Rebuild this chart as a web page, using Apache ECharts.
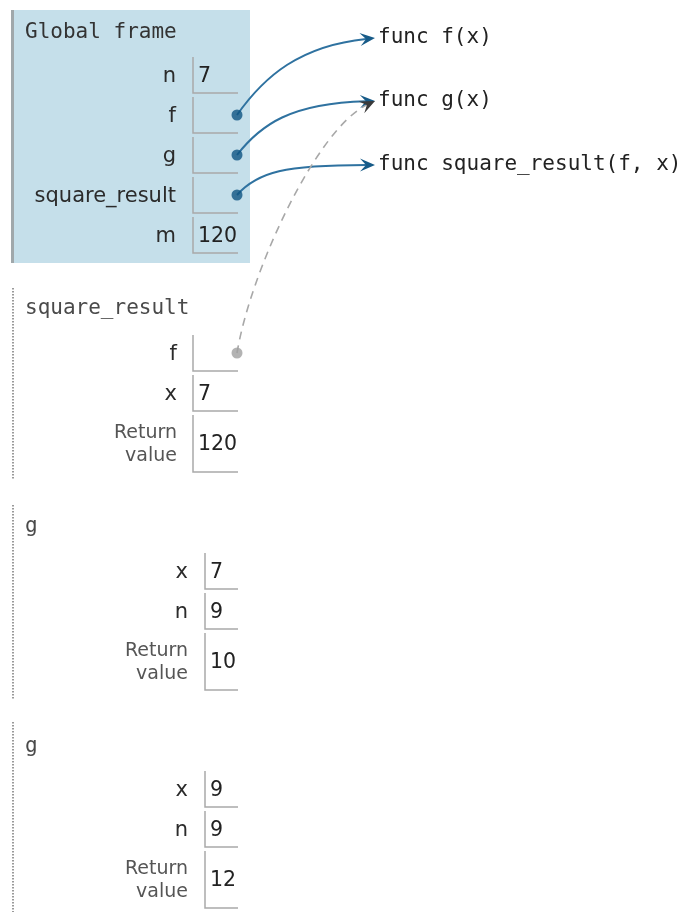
<!DOCTYPE html>
<html><head><meta charset="utf-8">
<script src="https://cdn.jsdelivr.net/npm/echarts@6/dist/echarts.min.js"></script>
<style>html,body{margin:0;padding:0;background:#fff}#c{width:683px;height:912px}</style>
</head><body><div id="c"></div>
<script>
// ---------------- data ----------------
const globalTitle = 'Global frame';
const globalNames = ['n', 'f', 'g', 'square_result', 'm'];
const globalValues = ['7', null, null, null, '120'];
const globalPointers = [null, 0, 1, 2, null];           // index into funcObjects
const funcObjects = ['func f(x)', 'func g(x)', 'func square_result(f, x)'];
const frameTitles = ['square_result', 'g', 'g'];
const frameNames = [['f', 'x', 'Return value'], ['x', 'n', 'Return value'], ['x', 'n', 'Return value']];
const frameValues = [[null, '7', '120'], ['7', '9', '10'], ['9', '9', '12']];
const framePointers = [[1, null, null], [null, null, null], [null, null, null]];

// ---------------- layout / style (pixel space of the 683x912 canvas) ----------------
const L = {
  global: {x0: 12, x1: 250, y0: 10, y1: 263, titleY: 33, rowTop: 57, labelRight: 176, boxLeft: 193},
  boxRight: 238, rowH: 36, retH: 57, gap: 4, borderX: 13, textDy: 1.5,
  frames: [
    {y0: 288, y1: 480, titleY: 309, rowTop: 335, labelRight: 177, boxLeft: 193},
    {y0: 505, y1: 700, titleY: 527, rowTop: 553, labelRight: 188, boxLeft: 205},
    {y0: 722, y1: 912, titleY: 747, rowTop: 771, labelRight: 188, boxLeft: 205}
  ],
  objX: 378, objY: [38, 101, 165], tipX: 375, dotX: 237,
  curves: [[0.2, 0.51, 0.46, 0.9], [0.17, 0.56, 0.39, 0.96], [0.15, 0.77, 0.35, 1.0]],
  refCurve: [0.1, 0.33, 0.58, 0.89]
};
const MONO = '"DejaVu Sans Mono", monospace';
const SANS = '"DejaVu Sans", Verdana, sans-serif';
const C = {bg: '#c5dfea', border: '#a0a8ab', cell: '#a9a9a9', dotted: '#9a9a9a',
  label: '#2b2b2b', value: '#222', ret: '#555', title: '#333', sub: '#4a4a4a',
  link: '#2f72a0', dot: '#0e5482', head: '#175b88', ref: '#a8a8a8', refHead: '#3a3a3a'};

// ---------------- build element lists ----------------
const els = [];      // frame backgrounds, borders, cells, texts
const dots = [];     // pointer origins (scatter)
const arrows = [];   // pointer connectors

const G = L.global;
els.push({t: 'rect', x0: G.x0, y0: G.y0, x1: G.x1, y1: G.y1, fill: C.bg});
els.push({t: 'rect', x0: G.x0 - 1, y0: G.y0, x1: G.x0 + 2, y1: G.y1, fill: C.border});
els.push({t: 'text', x: 25, y: G.titleY, text: globalTitle, font: '21px ' + MONO, color: C.title, align: 'left'});

function addRows(names, values, pointers, F, isGlobal) {
  let top = F.rowTop;
  names.forEach((name, i) => {
    const isRet = name === 'Return value';
    const h = isRet ? L.retH : L.rowH;
    const mid = top + h / 2;
    els.push({t: 'cell', x0: F.boxLeft, y0: top, y1: top + h, x1: L.boxRight});
    els.push({t: 'text', x: F.labelRight, y: mid + (isRet ? 1 : L.textDy), text: isRet ? 'Return\nvalue' : name,
      font: (isRet ? '19px ' : '21px ') + SANS, color: isRet ? C.ret : C.label, align: 'right', lh: 23});
    if (values[i] !== null) {
      els.push({t: 'text', x: F.boxLeft + 5, y: mid + L.textDy, text: values[i], font: '20.5px ' + SANS, color: C.value, align: 'left'});
    }
    if (pointers[i] !== null) {
      const target = [L.tipX, L.objY[pointers[i]]];
      dots.push({value: [L.dotX, mid], itemStyle: {color: isGlobal ? C.dot : '#a0a0a0'}});
      arrows.push({from: [L.dotX, mid], to: target,
        curve: isGlobal ? L.curves[pointers[i]] : L.refCurve, ref: !isGlobal});
    }
    top += h + L.gap;
  });
}
addRows(globalNames, globalValues, globalPointers, G, true);

frameTitles.forEach((title, k) => {
  const F = L.frames[k];
  els.push({t: 'line', p0: [L.borderX, F.y0], p1: [L.borderX, F.y1], color: C.dotted, w: 2, dash: [1.5, 1.5]});
  els.push({t: 'text', x: 25, y: F.titleY, text: title, font: '21px ' + MONO, color: C.sub, align: 'left'});
  addRows(frameNames[k], frameValues[k], framePointers[k], F, false);
});

funcObjects.forEach((name, i) => {
  els.push({t: 'text', x: L.objX, y: L.objY[i], text: name, font: '21px ' + MONO, color: '#222', align: 'left'});
});
// draw dashed (reference from non-top frame) after solid ones
arrows.sort((a, b) => (a.ref ? 1 : 0) - (b.ref ? 1 : 0));

// ---------------- renderers ----------------
function renderEl(params, api) {
  const e = els[params.dataIndex];
  const c = p => api.coord(p);
  if (e.t === 'rect') {
    const a = c([e.x0, e.y0]), b = c([e.x1, e.y1]);
    return {type: 'rect', shape: {x: a[0], y: a[1], width: b[0] - a[0], height: b[1] - a[1]}, style: {fill: e.fill}};
  }
  if (e.t === 'line') {
    const a = c(e.p0), b = c(e.p1);
    return {type: 'line', shape: {x1: a[0], y1: a[1], x2: b[0], y2: b[1]},
      style: {stroke: e.color, lineWidth: e.w, lineDash: e.dash || null}};
  }
  if (e.t === 'cell') {
    const a = c([e.x0, e.y0]), b = c([e.x0, e.y1]), d = c([e.x1, e.y1]);
    return {type: 'polyline', shape: {points: [a, b, d]}, style: {stroke: C.cell, lineWidth: 1.5, fill: null}};
  }
  if (e.t === 'text') {
    const a = c([e.x, e.y]);
    return {type: 'text', x: a[0], y: a[1], style: {text: e.text, fill: e.color, font: e.font,
      align: e.align, verticalAlign: 'middle', lineHeight: e.lh || undefined}};
  }
  return null;
}

function renderArrow(params, api) {
  const e = arrows[params.dataIndex];
  const p0 = api.coord(e.from), p3 = api.coord(e.to);
  const dx = p3[0] - p0[0], dy = p3[1] - p0[1], k = e.curve;
  const p1 = [p0[0] + k[0] * dx, p0[1] + k[1] * dy];
  const p2 = [p0[0] + k[2] * dx, p0[1] + k[3] * dy];
  let ux = p3[0] - p2[0], uy = p3[1] - p2[1];
  const len = Math.hypot(ux, uy); ux /= len; uy /= len;
  const nx = -uy, ny = ux, HL = 15, HW = 6.5, NB = 9;
  const head = [
    [p3[0], p3[1]],
    [p3[0] - HL * ux + HW * nx, p3[1] - HL * uy + HW * ny],
    [p3[0] - NB * ux, p3[1] - NB * uy],
    [p3[0] - HL * ux - HW * nx, p3[1] - HL * uy - HW * ny]
  ];
  const end = [p3[0] - NB * ux, p3[1] - NB * uy];
  return {type: 'group', children: [
    {type: 'bezierCurve', shape: {x1: p0[0], y1: p0[1], cpx1: p1[0], cpy1: p1[1], cpx2: p2[0], cpy2: p2[1], x2: end[0], y2: end[1]},
      style: {stroke: e.ref ? C.ref : C.link, lineWidth: e.ref ? 1.6 : 2, fill: null, lineDash: e.ref ? [8, 6] : null}},
    {type: 'polygon', shape: {points: head}, style: {fill: e.ref ? C.refHead : C.head}}
  ]};
}

const chart = echarts.init(document.getElementById('c'), null, {renderer: 'canvas'});
chart.setOption({
  animation: false,
  grid: {left: 0, right: 0, top: 0, bottom: 0},
  xAxis: {type: 'value', min: 0, max: 683, show: false},
  yAxis: {type: 'value', min: 0, max: 912, inverse: true, show: false},
  series: [
    {type: 'custom', name: 'diagram', renderItem: renderEl, data: els.map(e => [e.x0 ?? e.x ?? (e.p0 && e.p0[0]) ?? 0, e.y0 ?? e.y ?? (e.p0 && e.p0[1]) ?? 0]), z: 1, silent: true},
    {type: 'custom', name: 'pointers', renderItem: renderArrow, data: arrows.map(a => a.from), z: 3, silent: true},
    {type: 'scatter', name: 'dots', data: dots, symbol: 'circle', symbolSize: 11, z: 4, silent: true}
  ]
});
</script>
</body></html>
